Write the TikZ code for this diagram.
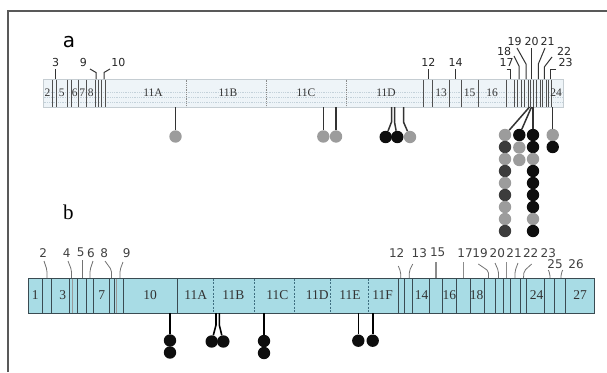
\documentclass[tikz,border=0pt]{standalone}
\usepackage{fontspec}
\setmainfont{Liberation Serif}
\newfontfamily\sansf{DejaVu Sans}
\definecolor{abar}{HTML}{EEF4F8}
\definecolor{abord}{HTML}{C5CDD2}
\definecolor{atex}{HTML}{C3D1DA}
\definecolor{aline}{HTML}{505050}
\definecolor{bbar}{HTML}{A8DCE5}
\definecolor{bbord}{HTML}{3A4B52}
\definecolor{bdiv}{HTML}{3E6E80}
\definecolor{ballg}{HTML}{9C9C9C}
\definecolor{balld}{HTML}{3C3C3C}
\definecolor{ballk}{HTML}{0E0E0E}
\begin{document}
\begin{tikzpicture}[x=1pt,y=-1pt,
  alab/.style={font=\sansf\fontsize{11}{12}\selectfont, text=black!85, inner sep=0pt},
  ain/.style={font=\fontsize{11.5}{12}\selectfont, text=black!80, inner sep=0pt},
  blab/.style={font=\sansf\fontsize{12}{13}\selectfont, text=black!75, inner sep=0pt},
  bin/.style={font=\fontsize{13.5}{14}\selectfont, text=black!80, inner sep=0pt},
  ball/.style={circle, inner sep=0pt, minimum size=12.4pt, draw=none},
  stemA/.style={draw=black!80, line width=1.5pt},
  stemB/.style={draw=black, line width=1.6pt},
  tickA/.style={draw=black!80, line width=1pt},
  tickB/.style={draw=black!55, line width=0.8pt, rounded corners=2pt},
  vlineA/.style={draw=aline, line width=0.9pt},
  divA/.style={draw=black!45, line width=0.8pt, densely dotted},
  vlineB/.style={draw=bbord, line width=0.9pt},
  divB/.style={draw=bdiv, line width=0.8pt, dash pattern=on 2pt off 1.5pt}]
\useasboundingbox (0,0) rectangle (607,372);
\fill[white] (0,0) rectangle (607,372);
% frame
\draw[black!65, line width=1.3pt] (8,372) -- (8,11) -- (607,11);

% ================= panel a =================
\node[font=\sansf\fontsize{20}{22}\selectfont, inner sep=0pt] (la) at (69,42) {a};
\node[draw=abord, fill=abar, line width=0.8pt, minimum width=520pt, minimum height=28pt,
      inner sep=0pt, anchor=north west] (barA) at (43,79) {};
\foreach \yy in {92,97,102}
  \draw[atex, densely dotted, line width=0.8pt] (43.5,\yy) -- (562.5,\yy);
\foreach \x in {52.5,56.5,67,71,78.5,86,95.5,98,101,105,423,432.5,449.5,461,478.5,
                506.5,514.5,517.5,521,524,528,530,533.5,536,540.5,542.5,546,548,551.5}
  \draw[vlineA] (\x,79.5) -- (\x,106.5);
\foreach \x in {186.5,266,346}
  \draw[divA] (\x,79.5) -- (\x,106.5);
% inner labels a
\foreach \t/\x in {2/47.5,5/61.8,6/74.8,7/82.3,8/90.8,11A/153,11B/228,11C/306,11D/386,
                   13/441,15/469.5,16/492,24/556}
  \node[ain] (ai\t) at (\x,92.5) {\t};
% top labels a
\node[alab] (at3) at (55.7,62.5) {3};
\node[alab] (at9) at (83.3,62.5) {9};
\node[alab] (at10) at (118.3,62.5) {10};
\node[alab] (at12) at (428.3,62.5) {12};
\node[alab] (at14) at (455.5,62.5) {14};
\node[alab] (at17) at (506.5,62.5) {17};
\node[alab] (at18) at (504,51) {18};
\node[alab] (at19) at (514.5,41) {19};
\node[alab] (at20) at (531.5,41) {20};
\node[alab] (at21) at (547.5,41) {21};
\node[alab] (at22) at (564,51) {22};
\node[alab] (at23) at (565.5,62.5) {23};
% ticks a
\draw[tickA] (55,69) -- (55,79);
\draw[tickA] (90,69) -- (96,72.5) -- (96,79);
\draw[tickA] (110,69) -- (104,72.5) -- (104,79);
\draw[tickA] (428.3,69) -- (428.3,79);
\draw[tickA] (455.5,69) -- (455.5,79);
\draw[tickA] (506.5,69) -- (510.5,69) -- (510.5,79);
\draw[tickA] (514,56) -- (519,66) -- (519,79);
\draw[tickA] (517,48) -- (526,64) -- (526,79);
\draw[tickA] (531.7,48) -- (531.7,79);
\draw[tickA] (545,48) -- (538.3,64) -- (538.3,79);
\draw[tickA] (552,57) -- (544.3,67) -- (544.3,79);
\draw[tickA] (556,69) -- (550,69) -- (550,79);

% lollipops a
\node[ball, fill=ballg] (pa1) at (175.5,136.5) {};
\draw[stemA] (175.5,107) -- (pa1);
\node[ball, fill=ballg] (pa2) at (323.3,136.5) {};
\node[ball, fill=ballg] (pa3) at (336,136.5) {};
\draw[stemA] (323.3,107) -- (pa2);
\draw[stemA] (336,107) -- (pa3);
\node[ball, fill=ballk] (pa4) at (385.7,137) {};
\node[ball, fill=ballk] (pa5) at (397.3,137) {};
\node[ball, fill=ballg] (pa6) at (410,137) {};
\draw[stemA] (391.5,107) -- (391.5,122) -- (pa4);
\draw[stemA] (394.5,107) -- (394.5,122) -- (pa5);
\draw[stemA] (403.5,107) -- (403.5,122) -- (pa6);
% right cluster a
\foreach \c [count=\i from 0] in {ballg,balld,ballg,balld,ballg,balld,ballg,ballg,balld}
  \node[ball, fill=\c] (ca\i) at (505,{135+12*\i}) {};
\foreach \c [count=\i from 0] in {ballk,ballg,ballg}
  \node[ball, fill=\c] (cb\i) at (519.3,{135+12.5*\i}) {};
\foreach \c [count=\i from 0] in {ballk,ballk,ballg,ballk,ballk,ballk,ballk,ballg,ballk}
  \node[ball, fill=\c] (cc\i) at (533,{135+12*\i}) {};
\node[ball, fill=ballg] (cd0) at (552.7,135) {};
\node[ball, fill=ballk] (cd1) at (552.7,147) {};
\draw[stemA] (529.5,107) -- (ca0);
\draw[stemA] (531.5,107) -- (cb0);
\draw[stemA] (533,107) -- (cc0);
\draw[stemA] (552.7,107) -- (cd0);

% ================= panel b =================
\node[font=\fontsize{21}{23}\selectfont, inner sep=0pt] (lb) at (68.3,212) {b};
\node[draw=bbord, fill=bbar, line width=1pt, minimum width=566pt, minimum height=35pt,
      inner sep=0pt, anchor=north west] (barB) at (28,278) {};
\foreach \x in {42.7,51.3,69.3,77.7,86,93.3,109,114.3,123.3,177.7,398,404,412.3,429.3,442.3,
                456.7,470,484.3,495,503.3,510,520,526.7,544,554,565}
  \draw[vlineB] (\x,278.5) -- (\x,312.5);
\foreach \x in {72.7,116.7}
  \draw[draw=black!40, line width=0.9pt] (\x,278.5) -- (\x,312.5);
\foreach \x in {213.3,254.3,294.3,330,368.3}
  \draw[divB] (\x,278.5) -- (\x,312.5);
% inner labels b
\foreach \t/\x in {1/35.3,3/62.7,7/101.7,10/150,11A/195.7,11B/233.3,11C/277.3,11D/317.3,
                   11E/350,11F/382.7,14/421.7,16/449.3,18/476.7,24/536.7,27/580}
  \node[bin] (bi\t) at (\x,295.5) {\t};
% top labels b
\foreach \t/\x in {2/43.3,4/66.7,5/80.7,6/91,8/104.3,9/126.7,12/396.7,13/419.3,15/437.7,
                   17/465,19/480,20/497.3,21/514,22/530.7,23/548.3}
  \node[blab] (bt\t) at (\x,252.7) {\t};
\node[blab] (bt25) at (555,264) {25};
\node[blab] (bt26) at (576,264) {26};
% ticks b
\draw[tickB] (44,261) -- (47,270) -- (47,278);
\draw[tickB] (68,261) -- (71.5,270) -- (71.5,278);
\draw[tickB] (82,260) -- (82,278);
\draw[tickB] (93,261) -- (90,270) -- (90,278);
\draw[tickB] (105,261) -- (111.5,270) -- (111.5,278);
\draw[tickB] (123,262) -- (120,270) -- (120,278);
\draw[tickB] (398.3,266) -- (400.7,272) -- (400.7,278);
\draw[tickB] (412.7,264) -- (409.3,271) -- (409.3,278);
\draw[draw=black!45, line width=1.3pt] (436,262) -- (436,278);
\draw[draw=black!45, line width=1.3pt] (463.3,262) -- (463.3,278);
\draw[tickB] (478.3,264) -- (488.5,271) -- (488.5,278);
\draw[tickB] (495,263) -- (498.5,271) -- (498.5,278);
\draw[draw=black!45, line width=1.3pt] (506.7,262) -- (506.7,278);
\draw[tickB] (518,263) -- (515,271) -- (515,278);
\draw[tickB] (531.7,264) -- (524,271) -- (523.5,278);
\draw[tickB] (548.3,270) -- (550,274) -- (550,278);
\draw[tickB] (562.7,270) -- (561,274) -- (561,278);

% lollipops b
\node[ball, fill=ballk] (pb1) at (170,340.5) {};
\node[ball, fill=ballk] (pb1b) at (170,352.5) {};
\draw[stemB] (170,313) -- (pb1);
\node[ball, fill=ballk] (pb2) at (211.7,341.5) {};
\node[ball, fill=ballk] (pb3) at (223.3,341.5) {};
\draw[stemB] (216,313) -- (216,325) -- (pb2);
\draw[stemB] (219.3,313) -- (219.3,325) -- (pb3);
\node[ball, fill=ballk] (pb4) at (264,341) {};
\node[ball, fill=ballk] (pb4b) at (264,353) {};
\draw[stemB] (264,313) -- (pb4);
\node[ball, fill=ballk] (pb5) at (358.3,340.7) {};
\node[ball, fill=ballk] (pb6) at (372.7,340.7) {};
\draw[stemB] (358.3,313) -- (pb5);
\draw[stemB] (372.7,313) -- (pb6);
\end{tikzpicture}
\end{document}
